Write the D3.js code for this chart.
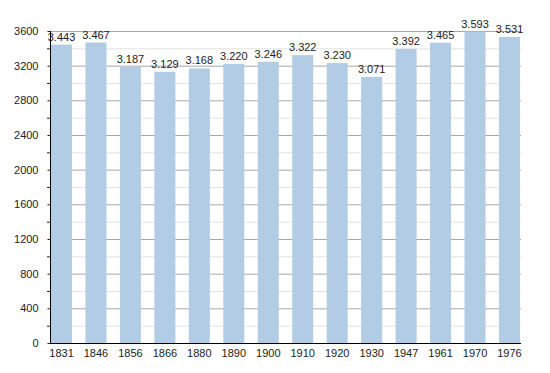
<!DOCTYPE html>
<html><head><meta charset="utf-8">
<script src="https://cdn.jsdelivr.net/npm/d3@7"></script>
<style>body{margin:0;background:#fff}svg{display:block}text{font-family:"Liberation Sans",Arial,sans-serif}</style>
</head><body>
<svg id="c" width="550" height="373"></svg>
<script>
const years = ["1831","1846","1856","1866","1880","1890","1900","1910","1920","1930","1947","1961","1970","1976"];
const population = [3443,3467,3187,3129,3168,3220,3246,3322,3230,3071,3392,3465,3593,3531];
const valueLabels = ["3.443","3.467","3.187","3.129","3.168","3.220","3.246","3.322","3.230","3.071","3.392","3.465","3.593","3.531"];
const majorTicks = [0,400,800,1200,1600,2000,2400,2800,3200,3600];
const minorTicks = [200,600,1000,1400,1800,2200,2600,3000,3400];

const svg = d3.select("#c");
const x = d3.scaleBand().domain(years).range([51,520]).paddingInner(0.39).paddingOuter(0);
const y = d3.scaleLinear().domain([0,3600]).range([343,31]);
const left = 50, right = 521;

// minor gridlines
svg.append("g").selectAll("line").data(minorTicks).join("line")
  .attr("x1",left).attr("x2",right).attr("y1",d=>y(d)+0.5).attr("y2",d=>y(d)+0.5)
  .attr("stroke","#e2e2e2").attr("stroke-width",1);
// major gridlines
svg.append("g").selectAll("line").data(majorTicks.filter(d=>d>0)).join("line")
  .attr("x1",left).attr("x2",right).attr("y1",d=>y(d)+0.5).attr("y2",d=>y(d)+0.5)
  .attr("stroke","#a8a8a8").attr("stroke-width",1);

// bars
svg.append("g").selectAll("rect").data(population).join("rect")
  .attr("x",(d,i)=>x(years[i])).attr("width",x.bandwidth())
  .attr("y",d=>y(d)).attr("height",d=>y(0)-y(d))
  .attr("fill","#b3cce6");

// value labels
svg.append("g").selectAll("text").data(population).join("text")
  .attr("x",(d,i)=>x(years[i])+x.bandwidth()/2).attr("y",d=>y(d)-4)
  .attr("text-anchor","middle").attr("font-size",11).attr("fill","#222")
  .text((d,i)=>valueLabels[i]);

// y axis
const yAxis = d3.axisLeft(y).tickValues(majorTicks).tickSize(3).tickPadding(9).tickFormat(d3.format("d"));
const ga = svg.append("g").attr("transform",`translate(${left+0.5},0)`).call(yAxis);
ga.select(".domain").remove();
ga.selectAll("text").attr("font-size",11).attr("fill","#222").attr("font-family","Liberation Sans, Arial, sans-serif");
ga.selectAll("line").attr("stroke","#222");
svg.append("g").selectAll("line").data(minorTicks).join("line")
  .attr("x1",left-3).attr("x2",left).attr("y1",d=>y(d)+0.5).attr("y2",d=>y(d)+0.5)
  .attr("stroke","#222");
svg.append("line").attr("x1",left+0.5).attr("x2",left+0.5).attr("y1",y(3600)).attr("y2",y(0)+1).attr("stroke","#000");

// x axis
const xAxis = d3.axisBottom(x).tickSize(0).tickPadding(6);
const gx = svg.append("g").attr("transform",`translate(0,${y(0)})`).call(xAxis);
gx.select(".domain").remove();
gx.selectAll("text").attr("font-size",11).attr("fill","#222").attr("font-family","Liberation Sans, Arial, sans-serif");
svg.append("line").attr("x1",left).attr("x2",right).attr("y1",y(0)+0.5).attr("y2",y(0)+0.5).attr("stroke","#000");
</script>
</body></html>
